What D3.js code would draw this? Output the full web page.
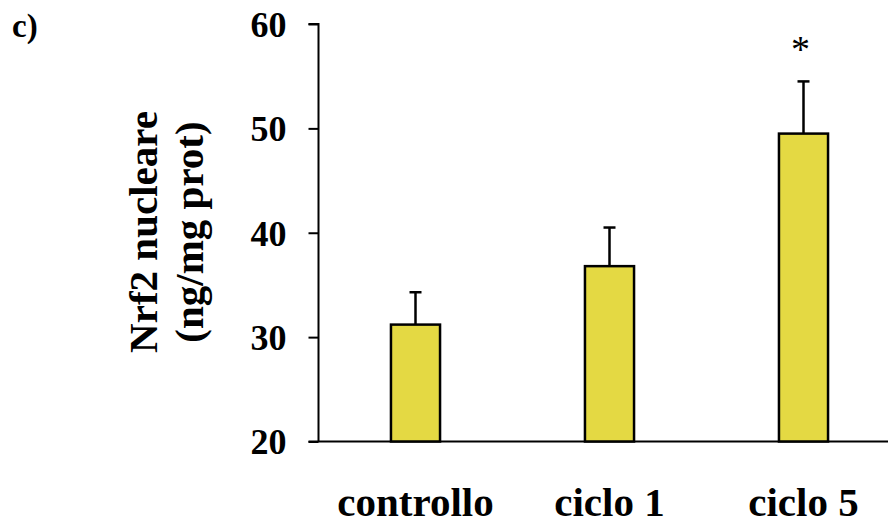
<!DOCTYPE html>
<html>
<head>
<meta charset="utf-8">
<script src="https://cdn.jsdelivr.net/npm/d3@7"></script>
<style>
  html, body { margin: 0; padding: 0; background: #fff; }
  svg { display: block; }
  text { font-family: "Liberation Serif", "Times New Roman", serif; }
</style>
</head>
<body>
<svg id="chart" width="888" height="527"></svg>
<script>
// Nrf2 nuclear levels per group (mean and upper error)
const categories = ["controllo", "ciclo 1", "ciclo 5"];
const means = [31.2, 36.8, 49.5];
const errors = [3.1, 3.7, 5.0];
const significance = ["", "", "*"];
const yTicks = [20, 30, 40, 50, 60];

const svg = d3.select("#chart");

const y = d3.scaleLinear().domain([20, 60]).range([441.5, 24]);
const x = d3.scaleBand()
  .domain(categories)
  .range([318.5, 900.5])
  .paddingInner(0.747)
  .paddingOuter(0.3735);

// y axis
const yAxis = d3.axisLeft(y).tickValues(yTicks).tickSize(10).tickPadding(22).tickFormat(d3.format("d"));
const gy = svg.append("g").attr("transform", "translate(318.5,0)").call(yAxis);
gy.select(".domain").attr("stroke", "#000").attr("stroke-width", 2).attr("d", "M-10,24H0V441.5");
gy.selectAll(".tick line").attr("stroke", "#000").attr("stroke-width", 2);
gy.selectAll(".tick text")
  .attr("fill", "#000")
  .style("font-size", "36px")
  .style("font-weight", "bold")
  .attr("dy", "0.34em");

// x baseline
svg.append("line")
  .attr("x1", 308.5).attr("x2", 888)
  .attr("y1", y(20)).attr("y2", y(20))
  .attr("stroke", "#000").attr("stroke-width", 2);

// bars
svg.append("g").selectAll("rect")
  .data(categories)
  .join("rect")
  .attr("x", d => x(d))
  .attr("width", x.bandwidth())
  .attr("y", (d, i) => y(means[i]))
  .attr("height", (d, i) => y(20) - y(means[i]))
  .attr("fill", "#e4d943")
  .attr("stroke", "#000")
  .attr("stroke-width", 2.5);

// upper error bars
const eb = svg.append("g").attr("stroke", "#000").attr("stroke-width", 2.5);
categories.forEach((c, i) => {
  const cx = x(c) + x.bandwidth() / 2;
  eb.append("line").attr("x1", cx).attr("x2", cx)
    .attr("y1", y(means[i])).attr("y2", y(means[i] + errors[i]));
  eb.append("line").attr("x1", cx - 6).attr("x2", cx + 6)
    .attr("y1", y(means[i] + errors[i])).attr("y2", y(means[i] + errors[i]));
});

// significance markers
svg.append("g").selectAll("text")
  .data(categories)
  .join("text")
  .attr("x", d => x(d) + x.bandwidth() / 2 - 3)
  .attr("y", (d, i) => y(means[i] + errors[i]) - 19)
  .attr("text-anchor", "middle")
  .style("font-size", "38px")
  .attr("fill", "#000")
  .text((d, i) => significance[i]);

// category labels
svg.append("g").selectAll("text")
  .data(categories)
  .join("text")
  .attr("x", d => x(d) + x.bandwidth() / 2)
  .attr("y", 516)
  .attr("text-anchor", "middle")
  .style("font-size", "41px")
  .style("font-weight", "bold")
  .attr("fill", "#000")
  .text(d => d);

// y axis title
const title = svg.append("text")
  .attr("transform", "translate(157,232) rotate(-90)")
  .attr("text-anchor", "middle")
  .style("font-size", "41px")
  .style("font-weight", "bold")
  .attr("fill", "#000");
title.append("tspan").attr("x", 0).attr("y", 0).text("Nrf2 nucleare");
title.append("tspan").attr("x", 0).attr("y", 46).text("(ng/mg prot)");

// panel letter
svg.append("text")
  .attr("x", 12).attr("y", 37)
  .style("font-size", "33px")
  .style("font-weight", "bold")
  .attr("fill", "#000")
  .text("c)");
</script>
</body>
</html>
